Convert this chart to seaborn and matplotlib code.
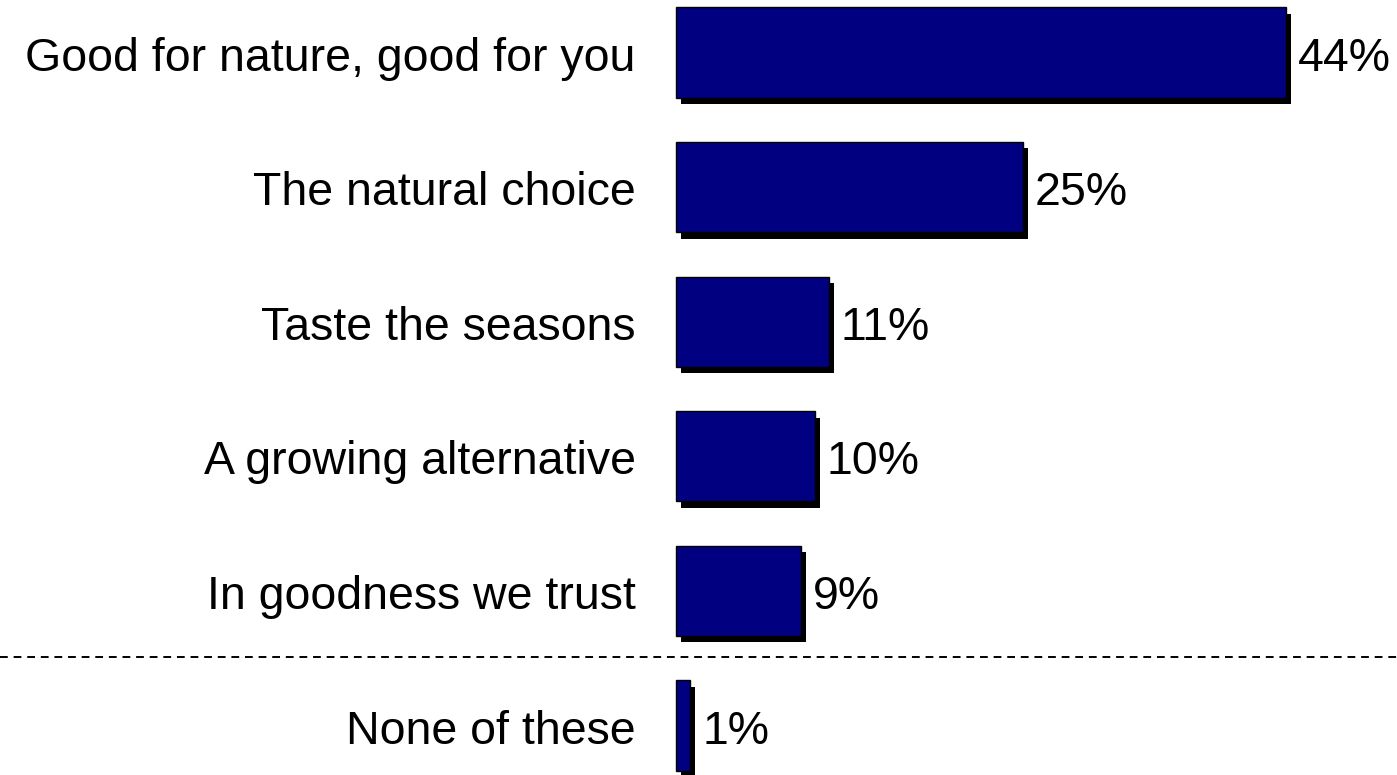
import matplotlib
matplotlib.use("Agg")
import matplotlib.pyplot as plt
import matplotlib.patheffects as pe
import seaborn as sns
import pandas as pd

categories = [
    "Good for nature, good for you",
    "The natural choice",
    "Taste the seasons",
    "A growing alternative",
    "In goodness we trust",
    "None of these",
]
values = [44, 25, 11, 10, 9, 1]
value_labels = ["44%", "25%", "11%", "10%", "9%", "1%"]

sns.set_theme(style="white")
plt.rcParams["font.family"] = ["Liberation Sans", "DejaVu Sans"]

df = pd.DataFrame({"slogan": categories, "share": values})

fig = plt.figure(figsize=(13.97, 7.75), dpi=100)
ax = fig.add_axes([0, 0, 1, 1])

sns.barplot(data=df, y="slogan", x="share", orient="h", color="#000080",
            saturation=1, width=0.67, edgecolor="black", linewidth=1.0, ax=ax)

shadow = [pe.SimplePatchShadow(offset=(3.8, -4.6), shadow_rgbFace="black", alpha=1.0),
          pe.Normal()]
for p in ax.patches:
    p.set_path_effects(shadow)

ax.set_xlim(-48.76, 52.0)
ax.set_ylim(5.368, -0.39)
ax.axis("off")

# slogan labels, right-aligned to the left of the bars
for i, name in enumerate(categories):
    ax.annotate(name, xy=(-2.9, i), xytext=(0, -13), textcoords="offset points",
                ha="right", va="baseline", fontsize=33.5, color="black")

# value labels at the bar ends
for i, (v, lab) in enumerate(zip(values, value_labels)):
    ax.annotate(lab, xy=(v, i), xytext=(8.8, -13), textcoords="offset points",
                ha="left", va="baseline", fontsize=33.5, color="black")

# separator between the slogans and "None of these"
ax.axhline(4.49, color="black", linewidth=1.4, linestyle=(0, (4, 3)))

fig.savefig("out.png", dpi=100)
